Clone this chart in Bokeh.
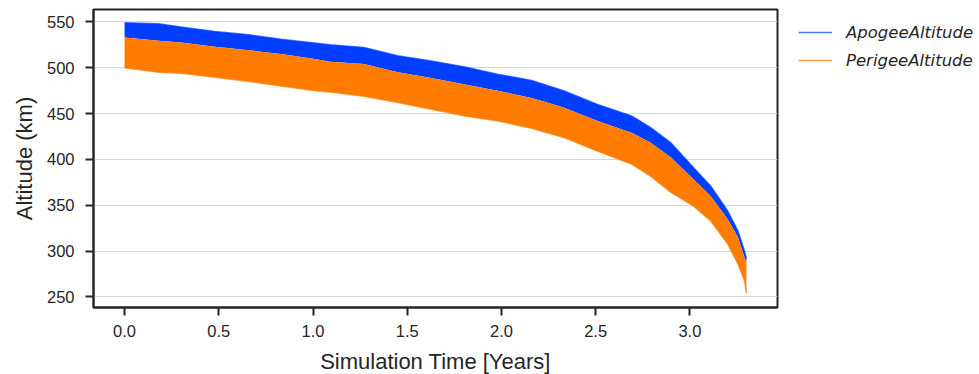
from bokeh.plotting import figure
from bokeh.models import ColumnDataSource, Legend, LegendItem, FixedTicker, NumeralTickFormatter, Range1d
from bokeh.embed import file_html
from bokeh.resources import INLINE

# Simulation time [years] and envelope values of each oscillating series (km)
t_years = [0.00, 0.18, 0.30, 0.48, 0.66, 0.83, 1.01, 1.09, 1.27, 1.45, 1.62, 1.80, 1.98,
           2.16, 2.33, 2.51, 2.69, 2.79, 2.90, 3.02, 3.11, 3.20, 3.255, 3.29, 3.30]
apogee_max = [549.0, 548.0, 544.5, 539.5, 536.0, 531.0, 527.0, 525.0, 522.0, 513.0, 507.5, 501.0, 493.0,
              486.0, 475.0, 460.0, 447.5, 435.0, 418.0, 391.0, 371.0, 344.0, 322.0, 300.0, 292.0]
perigee_max = [533.0, 529.5, 527.5, 523.0, 519.0, 515.0, 509.5, 506.5, 504.0, 495.0, 489.0, 482.0, 475.0,
               467.0, 456.5, 442.0, 429.0, 418.5, 402.0, 378.0, 360.0, 335.0, 315.0, 293.0, 287.0]
perigee_min = [500.0, 495.0, 494.0, 489.5, 485.0, 480.0, 475.0, 473.5, 469.0, 462.0, 455.0, 447.5, 442.0,
               434.0, 424.0, 409.0, 395.0, 382.0, 364.0, 349.0, 333.0, 308.0, 286.0, 268.0, 254.0]

series_labels = ["ApogeeAltitude", "PerigeeAltitude"]
y_ticks = [250, 300, 350, 400, 450, 500, 550]
x_ticks = [0.0, 0.5, 1.0, 1.5, 2.0, 2.5, 3.0]

BLUE = "#023eff"
ORANGE = "#ff7c00"
TXT = "#262626"

src = ColumnDataSource(dict(t=t_years, amax=apogee_max, pmax=perigee_max, pmin=perigee_min))

p = figure(frame_width=684, frame_height=298, output_backend="svg", toolbar_location=None,
           x_range=Range1d(-0.165, 3.465), y_range=Range1d(238.5, 563.5),
           min_border_left=93, min_border_right=0, min_border_top=9, min_border_bottom=67)

band_a = p.varea(x="t", y1="pmax", y2="amax", source=src, fill_color=BLUE)
band_p = p.varea(x="t", y1="pmin", y2="pmax", source=src, fill_color=ORANGE)
line_a = p.line(x="t", y="amax", source=src, line_color=BLUE, line_alpha=0.7, line_width=1.5)
line_p = p.line(x="t", y="pmin", source=src, line_color=ORANGE, line_alpha=0.7, line_width=1.5)

p.background_fill_color = "white"
p.border_fill_color = "white"
p.outline_line_color = TXT
p.outline_line_width = 2

p.xgrid.visible = False
p.ygrid.grid_line_color = "#d5d5d5"
p.ygrid.grid_line_width = 1

p.xaxis.ticker = FixedTicker(ticks=x_ticks)
p.xaxis.formatter = NumeralTickFormatter(format="0.0")
p.yaxis.ticker = FixedTicker(ticks=y_ticks)

for ax in (p.xaxis[0], p.yaxis[0]):
    ax.axis_line_color = TXT
    ax.axis_line_width = 2
    ax.major_tick_line_color = TXT
    ax.major_tick_line_width = 2
    ax.major_tick_out = 8
    ax.major_tick_in = 0
    ax.minor_tick_line_color = None
    ax.major_label_text_font = "Liberation Sans"
    ax.major_label_text_font_size = "16.5px"
    ax.major_label_text_color = TXT
    ax.axis_label_text_font = "Liberation Sans"
    ax.axis_label_text_font_size = "22px"
    ax.axis_label_text_font_style = "normal"
    ax.axis_label_text_color = TXT

p.xaxis.axis_label = "Simulation Time [Years]"
p.yaxis.axis_label = "Altitude (km)"
p.xaxis.major_label_standoff = 9
p.xaxis.axis_label_standoff = 9
p.yaxis.major_label_standoff = 11
p.yaxis.axis_label_standoff = 7

legend = Legend(items=[LegendItem(label=series_labels[0], renderers=[line_a]),
                       LegendItem(label=series_labels[1], renderers=[line_p])],
                location=(21, 237))
legend.border_line_color = None
legend.background_fill_alpha = 0
legend.padding = 0
legend.margin = 0
legend.spacing = 8
legend.glyph_width = 34
legend.glyph_height = 20
legend.label_height = 20
legend.label_standoff = 14
legend.label_text_font = "DejaVu Sans"
legend.label_text_font_style = "italic"
legend.label_text_font_size = "16.5px"
legend.label_text_color = TXT
p.add_layout(legend, "right")

open("out.html", "w").write(file_html(p, INLINE))
